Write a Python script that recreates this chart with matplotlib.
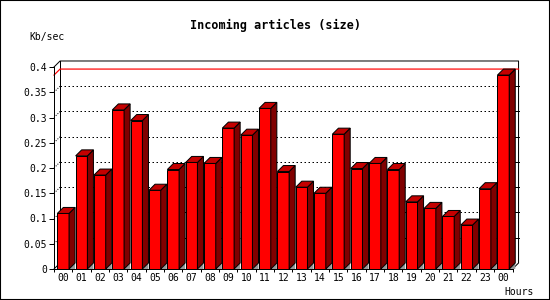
import numpy as np
import matplotlib
matplotlib.use("Agg")
import matplotlib.pyplot as plt
from matplotlib.patches import Polygon, Rectangle

hours = ["00", "01", "02", "03", "04", "05", "06", "07", "08", "09", "10", "11",
         "12", "13", "14", "15", "16", "17", "18", "19", "20", "21", "22", "23", "00"]
kbsec = [0.110, 0.224, 0.186, 0.315, 0.294, 0.156, 0.197, 0.211, 0.209, 0.279,
         0.265, 0.318, 0.193, 0.162, 0.150, 0.267, 0.199, 0.209, 0.197, 0.133,
         0.120, 0.104, 0.087, 0.159, 0.384]
yticks = [0, 0.05, 0.1, 0.15, 0.2, 0.25, 0.3, 0.35, 0.4]
ytick_labels = ["0", "0.05", "0.1", "0.15", "0.2", "0.25", "0.3", "0.35", "0.4"]

mono = "DejaVu Sans Mono"
lw = 0.72  # one pixel

fig = plt.figure(figsize=(5.5, 3), dpi=100)
fig.patch.set_facecolor("white")
ax = fig.add_axes([54 / 550, 31 / 300, (512.5 - 54) / 550, (269 - 67) / 300])
ax.set_xlim(-0.5, len(hours) - 0.5)
ax.set_ylim(0, 0.4)
ax.patch.set_visible(False)

# 3d depth, in data units (about 6 px each way)
dx = 0.33
dy = 0.0119
x = np.arange(len(hours))
w = 0.64
x0, x1 = -0.5, len(hours) - 0.5

# back wall: grid, frame, right ticks
for v in yticks[1:-1]:
    ax.plot([x0 + dx, x1 + dx], [v + dy, v + dy], color="black", lw=lw,
            linestyle=(0, (1.5, 2.5)), zorder=1, clip_on=False)
    ax.plot([x0, x0 + dx], [v, v + dy], color="black", lw=lw,
            linestyle=(0, (1, 1.5)), zorder=1, clip_on=False)
    ax.plot([x1 + dx - 0.2, x1 + dx], [v + dy, v + dy], color="black", lw=lw,
            zorder=1, clip_on=False)
ax.plot([x0, x0 + dx, x1 + dx, x1 + dx, x1], [0.4, 0.4 + dy, 0.4 + dy, dy, 0],
        color="black", lw=lw, zorder=1, clip_on=False)
ax.plot([x0 + dx, x0 + dx], [dy, 0.4 + dy], color="black", lw=lw, zorder=1, clip_on=False)
ax.plot([x0, x0 + dx], [0, dy], color="black", lw=lw, zorder=1, clip_on=False)

# max line
vmax = max(kbsec)
ax.plot([x0, x0 + dx, x1 + dx], [vmax, vmax + dy, vmax + dy], color="#ff0000",
        lw=lw * 1.2, zorder=1.5, clip_on=False)

# bars
ax.bar(x, kbsec, width=w, color="#ff0000", edgecolor="black", linewidth=lw, zorder=3)
for xi, v in zip(x, kbsec):
    r = xi + w / 2
    l = xi - w / 2
    ax.add_patch(Polygon([(r, 0), (r + dx, dy), (r + dx, 0)], closed=True,
                         facecolor="#999999", edgecolor="none", zorder=2, clip_on=False))
    ax.add_patch(Polygon([(r, 0), (r, v), (r + dx, v + dy), (r + dx, dy)], closed=True,
                         facecolor="#800000", edgecolor="black", lw=lw, zorder=3, clip_on=False))
    ax.add_patch(Polygon([(l, v), (r, v), (r + dx, v + dy), (l + dx, v + dy)], closed=True,
                         facecolor="#c40000", edgecolor="black", lw=lw, zorder=3, clip_on=False))

# axes
for s in ["top", "right"]:
    ax.spines[s].set_visible(False)
for s in ["left", "bottom"]:
    ax.spines[s].set_linewidth(lw)
    ax.spines[s].set_zorder(4)

ax.set_yticks(yticks)
ax.set_yticklabels(ytick_labels, fontfamily=mono, fontsize=7)
ax.tick_params(axis="y", direction="out", length=3.6, width=lw, pad=1.5)

ax.set_xticks(np.arange(len(hours) + 1) - 0.5)
ax.set_xticklabels([])
ax.tick_params(axis="x", which="major", direction="out", length=2.5, width=lw)
ax.set_xticks(x, minor=True)
ax.set_xticklabels(hours, minor=True, fontfamily=mono, fontsize=7)
ax.tick_params(axis="x", which="minor", length=0, pad=3)

fig.text(0.5, 1 - 25 / 300, "Incoming articles (size)", ha="center", va="center",
         fontfamily=mono, fontweight="bold", fontsize=8.5)
fig.text(47 / 550, 1 - 37 / 300, "Kb/sec", ha="center", va="center",
         fontfamily=mono, fontsize=7)
fig.text(519 / 550, 1 - 292 / 300, "Hours", ha="center", va="center",
         fontfamily=mono, fontsize=7)

fig.patches.append(Rectangle((0, 0), 1, 1, transform=fig.transFigure, fill=False,
                             edgecolor="black", linewidth=1.5))

fig.savefig("out.png", dpi=100)
